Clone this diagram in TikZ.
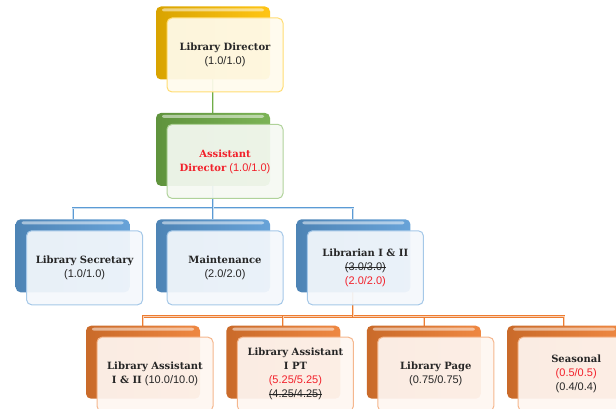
\documentclass[tikz,border=0pt]{standalone}
\usepackage{fontspec}
\setmainfont{Liberation Sans}
\newfontfamily\slab{DejaVu Serif}
\usetikzlibrary{positioning,backgrounds}

\definecolor{gold}{HTML}{FFC000}
\definecolor{leaf}{HTML}{70AD47}
\definecolor{sky}{HTML}{5B9BD5}
\definecolor{tang}{HTML}{ED7D31}
\definecolor{textred}{HTML}{F2202A}

\newcommand{\ttl}[1]{{\slab\bfseries\fontsize{10}{14}\selectfont #1}}
% struck-out figures
\newsavebox\oldbox
\newcommand{\old}[1]{\sbox\oldbox{#1}\rlap{\usebox\oldbox}\rule[0.3em]{\wd\oldbox}{0.6pt}}

\begin{document}
\begin{tikzpicture}[x=1pt, y=-1pt, node distance = 33pt and 26pt,
    back/.style={rectangle,rounded corners=5pt,minimum width=114pt,minimum height=73pt,
                 left color=#1!85!black,right color=#1!92!white,
                 path picture={\fill[white,opacity=0.5,rounded corners=2pt]
                    ([xshift=6pt,yshift=-2pt]path picture bounding box.north west) rectangle
                    ([xshift=-6pt,yshift=-5pt]path picture bounding box.north east);}},
    front/.style={rectangle,rounded corners=5pt,minimum width=116pt,minimum height=74pt,
                  draw=#1!55,line width=1pt,fill=#1!7,fill opacity=0.93,text opacity=1,
                  align=center,text=black!85,font=\fontsize{11}{14}\selectfont},
    link/.style={draw=#1,double=#1!35,double distance=0.9pt,line width=0.6pt},
   ]
    \useasboundingbox (0,0) rectangle (616,409);

    % coloured backs
    \node (dirB)   [back=gold] at (213,43) {};
    \node (asstB)  [back=leaf,below=of dirB] {};
    \node (maintB) [back=sky,below=of asstB] {};
    \node (secB)   [back=sky,left=of maintB] {};
    \node (libB)   [back=sky,right=of maintB] {};
    \node (ptB)    [back=tang,below=of libB,xshift=-70pt] {};
    \node (laB)    [back=tang,left=of ptB] {};
    \node (pageB)  [back=tang,right=of ptB] {};
    \node (seasB)  [back=tang,right=of pageB] {};

    % cards with the text
    \node (dir)   [front=gold] at ([shift={(12,12)}]dirB)
          {\ttl{Library Director}\\(1.0/1.0)};
    \node (asst)  [front=leaf,text=textred] at ([shift={(12,12)}]asstB)
          {\ttl{Assistant}\\\ttl{Director} (1.0/1.0)};
    \node (sec)   [front=sky] at ([shift={(12,12)}]secB)
          {\ttl{Library Secretary}\\(1.0/1.0)};
    \node (maint) [front=sky] at ([shift={(12,12)}]maintB)
          {\ttl{Maintenance}\\(2.0/2.0)};
    \node (lib)   [front=sky] at ([shift={(12,12)}]libB)
          {\ttl{Librarian I \& II}\\\old{(3.0/3.0)}\\\textcolor{textred}{(2.0/2.0)}};
    \node (la)    [front=tang] at ([shift={(12,12)}]laB)
          {\ttl{Library Assistant}\\\ttl{I \& II} (10.0/10.0)};
    \node (pt)    [front=tang] at ([shift={(12,12)}]ptB)
          {\ttl{Library Assistant}\\\ttl{I PT}\\\textcolor{textred}{(5.25/5.25)}\\\old{(4.25/4.25)}};
    \node (page)  [front=tang] at ([shift={(12,12)}]pageB)
          {\ttl{Library Page}\\(0.75/0.75)};
    \node (seas)  [front=tang] at ([shift={(12,12)}]seasB)
          {\ttl{Seasonal}\\\textcolor{textred}{(0.5/0.5)}\\(0.4/0.4)};

    \begin{pgfonlayer}{background}
    \draw[link=leaf] (dirB.center) -- (asstB.north);
    \draw[link=sky] (asstB.center) -- (maintB.north);
    \draw[link=sky] (asstB.center) |- ([yshift=11pt]secB.north) -- (secB.north);
    \draw[link=sky] (asstB.center) |- ([yshift=11pt]libB.north) -- (libB.north);
    \draw[link=tang] (libB.center) |- ([yshift=9pt]laB.north) -- (laB.north);
    \draw[link=tang] (libB.center) |- ([yshift=9pt]ptB.north) -- (ptB.north);
    \draw[link=tang] (libB.center) |- ([yshift=9pt]pageB.north) -- (pageB.north);
    \draw[link=tang] (libB.center) |- ([yshift=9pt]seasB.north) -- (seasB.north);
    \end{pgfonlayer}
\end{tikzpicture}
\end{document}
